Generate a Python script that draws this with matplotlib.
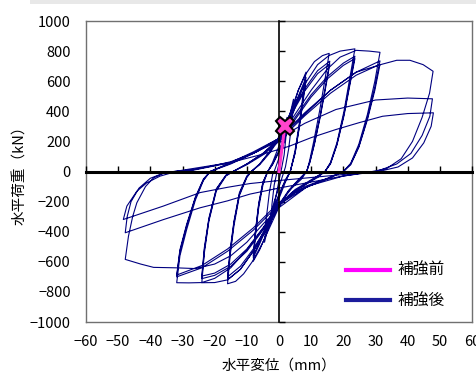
import numpy as np
import matplotlib
matplotlib.use("Agg")
import matplotlib.pyplot as plt
from matplotlib.lines import Line2D
from matplotlib.patches import Rectangle

plt.rcParams['font.family'] = ['Noto Sans CJK JP', 'DejaVu Sans']

# 補強前 : 変位(mm), 荷重(kN)
before_x = [0.0, 1.8]
before_y = [0, 300]

# 補強後 : 履歴ループ (変位 mm, 荷重 kN) を振幅ごとに読み取り
loop_small = [(0, 0), (0.8, 150), (1.8, 290), (2.5, 360), (2.2, 240), (1.6, 110), (0.8, 20),
              (0, -60), (-1, -170), (-2.5, -340), (-2.2, -220), (-1.5, -90), (-0.7, -10),
              (0, 50), (1.5, 190), (3, 340), (4.5, 480), (4.0, 330), (3.0, 150), (2.0, 30),
              (0.5, -70), (-1.5, -200), (-3, -330), (-4.5, -470), (-4.0, -320), (-3.0, -140),
              (-2.0, -20), (-1.5, 0)]

loop_08 = [(0, 90), (2, 230), (4, 400), (6, 540), (8.4, 660),
           (7.4, 500), (6.3, 320), (5, 140), (3.5, 0),
           (2, -70), (0, -180), (-2, -300), (-4, -420), (-6, -520), (-8, -596),
           (-7.3, -420), (-6.3, -240), (-5, -90), (-3.5, 0),
           (-2, 50), (0, 140), (2, 250), (4, 380), (6, 500), (8.4, 625),
           (7.4, 470), (6.3, 300), (5, 125), (3.5, 0),
           (2, -60), (0, -160), (-2, -270), (-4, -380), (-6, -480), (-8, -572),
           (-7.3, -400), (-6.3, -220), (-5, -75), (-3.5, 0),
           (-2, 45), (0, 130), (2, 240), (4, 365), (6, 485), (8.4, 605),
           (7.4, 455), (6.3, 290), (5, 120), (3.5, 0),
           (2, -55), (0, -150), (-2, -260), (-4, -370), (-6, -465), (-8, -560),
           (-7.3, -390), (-6.3, -210), (-5, -70), (-3.5, 0)]

loop_16 = [(-2, 60), (0, 170), (3, 360), (6, 540), (8.4, 650), (11, 730), (13.5, 770), (15.6, 785),
           (14.2, 600), (12.6, 400), (10.8, 200), (9.5, 70), (8.6, 0),
           (7, -50), (4, -110), (1, -190), (-2, -330), (-5, -470), (-8, -590), (-11, -680),
           (-13.5, -730), (-16, -746),
           (-15.2, -560), (-14, -360), (-12.3, -160), (-10, -40), (-8.6, 0),
           (-6, 50), (-3, 130), (0, 230), (4, 400), (8, 550), (12, 670), (15.8, 733),
           (14.4, 560), (12.8, 370), (11, 185), (9.6, 65), (8.6, 0),
           (6, -60), (3, -130), (0, -230), (-4, -390), (-8, -530), (-12, -650), (-16, -720),
           (-15.2, -540), (-14, -340), (-12.3, -150), (-10, -35), (-8.6, 0),
           (-6, 45), (-3, 120), (0, 215), (4, 385), (8, 535), (12, 650), (15.8, 715),
           (14.4, 545), (12.8, 360), (11, 180), (9.6, 60), (8.6, 0),
           (6, -55), (3, -125), (0, -220), (-4, -375), (-8, -515), (-12, -630), (-16, -700),
           (-15.2, -520), (-14, -330), (-12.3, -140), (-10, -30), (-8.6, 0)]

loop_24 = [(-6, 50), (-3, 130), (0, 230), (4, 410), (8, 580), (12, 710), (15.5, 770), (19, 800),
           (23.6, 815),
           (22, 620), (20.2, 400), (18, 190), (16, 60), (14.3, 0),
           (12, -40), (8, -90), (4, -140), (0, -220), (-4, -370), (-8, -530), (-12, -650),
           (-16, -720), (-20, -738), (-24, -739),
           (-23.2, -540), (-21.8, -330), (-19.5, -130), (-16.5, -30), (-14.3, 0),
           (-10, 50), (-5, 120), (0, 210), (5, 360), (10, 510), (15, 630), (20, 720), (23.6, 766),
           (22, 585), (20.2, 380), (18, 180), (16, 55), (14.3, 0),
           (10, -60), (5, -130), (0, -230), (-5, -390), (-10, -530), (-15, -630), (-20, -690),
           (-24, -712),
           (-23.2, -520), (-21.8, -320), (-19.5, -120), (-16.5, -25), (-14.3, 0),
           (-10, 45), (-5, 110), (0, 200), (5, 345), (10, 495), (15, 615), (20, 705), (23.6, 750),
           (22, 570), (20.2, 370), (18, 175), (16, 50), (14.3, 0),
           (10, -55), (5, -120), (0, -220), (-5, -375), (-10, -515), (-15, -615), (-20, -675),
           (-24, -695),
           (-23.2, -505), (-21.8, -310), (-19.5, -115), (-16.5, -25), (-14.3, 0)]

loop_31 = [(-10, 50), (-5, 120), (0, 220), (5, 380), (10, 540), (15, 680), (19, 760), (24, 805),
           (28, 800), (31.4, 792),
           (29.8, 600), (27.5, 380), (24.8, 180), (22.3, 55), (20, 0),
           (16, -40), (10, -90), (5, -140), (0, -220), (-5, -380), (-10, -520), (-15, -640),
           (-20, -710), (-24, -738), (-28, -740), (-31.8, -739),
           (-30.8, -560), (-28.7, -385), (-26, -190), (-23.5, -60), (-21.4, 0),
           (-15, 60), (-8, 130), (0, 220), (8, 390), (16, 540), (24, 660), (31.4, 735),
           (29.8, 560), (27.5, 355), (24.8, 165), (22.3, 50), (20, 0),
           (15, -50), (8, -110), (0, -220), (-8, -390), (-16, -530), (-24, -640), (-31.8, -700),
           (-30.8, -530), (-28.7, -360), (-26, -175), (-23.5, -55), (-21.4, 0),
           (-15, 55), (-8, 120), (0, 205), (8, 370), (16, 520), (24, 640), (31.4, 712),
           (29.8, 540), (27.5, 345), (24.8, 160), (22.3, 45), (20, 0),
           (15, -45), (8, -100), (0, -205), (-8, -375), (-16, -515), (-24, -625), (-31.8, -688),
           (-30.8, -520), (-28.7, -350), (-26, -170), (-23.5, -50), (-21.4, 0)]

loop_48 = [(-15, 50), (-8, 120), (0, 220), (8, 380), (16, 540), (24, 660), (31.9, 712),
           (36.6, 739), (40.7, 739), (44.8, 710), (47.9, 666),
           (46.8, 520), (44.5, 360), (41.5, 200), (38, 85), (33.5, 20), (29, 0),
           (20, -30), (9, -97), (0, -240), (-5, -350), (-10, -470), (-15, -560), (-20, -615),
           (-26, -645), (-32, -640), (-39, -637), (-43, -615), (-47.8, -584),
           (-46.8, -430), (-45.5, -300), (-44.2, -208), (-41.5, -100), (-39, -42), (-36, -12),
           (-32.8, 0),
           (-26.6, 12), (-20, 40), (-15, 65), (-7, 130), (0, 220), (8, 320), (17.7, 412),
           (30, 475), (40, 488), (47.7, 483),
           (46.9, 367), (44.5, 240), (41, 120), (36.6, 50), (30.3, 0),
           (20, -30), (10, -70), (0, -110), (-9, -150), (-16, -195), (-24.5, -241), (-36, -320),
           (-47.8, -407),
           (-47.2, -300), (-46, -200), (-43.5, -110), (-40, -45), (-36, -12), (-32.5, 0),
           (-25, 25), (-15, 60), (-5, 115), (3.2, 168), (10, 225), (17.7, 279), (25, 325),
           (32.2, 367), (40, 385), (48, 390),
           (47.3, 300), (45, 190), (41.5, 90), (37, 30), (31, 0),
           (20, -20), (10, -40), (0, -60), (-9, -80), (-16, -105), (-24.5, -140), (-36, -230),
           (-48.4, -319),
           (-47.3, -230), (-44.2, -131), (-41.1, -75), (-37, -31), (-32.8, -5), (-26.6, 9),
           (-15.2, 58)]

x_ticks = np.arange(-60, 61, 10)
y_ticks = np.arange(-1000, 1001, 200)

after = np.array(loop_small + loop_08 + loop_16 + loop_24 + loop_31 + loop_48)

fig = plt.figure(figsize=(4.76, 3.76), dpi=100)
fig.add_artist(Rectangle((30 / 476, 372 / 376), 1, 4 / 376, transform=fig.transFigure,
                         color='#e8e8e8', lw=0))

rect = [86 / 476, 54 / 376, 386 / 476, 301 / 376]

# 外枠と目盛ラベル
ax_frame = fig.add_axes(rect)
ax_frame.set_xlim(-60, 60)
ax_frame.set_ylim(-1000, 1000)
ax_frame.set_xticks(x_ticks)
ax_frame.set_yticks(y_ticks)
ax_frame.tick_params(axis='x', length=0, labelsize=10.5, pad=9)
ax_frame.tick_params(axis='y', length=0, labelsize=10.5, pad=11)
for s in ax_frame.spines.values():
    s.set_color('#707070')
    s.set_linewidth(1.0)
ax_frame.set_xlabel('水平変位（mm）', fontsize=10.5, labelpad=7.5)
ax_frame.set_ylabel('水平荷重（kN）', fontsize=10.5, labelpad=1.5)

# 原点を通る軸
ax = fig.add_axes(rect)
ax.patch.set_visible(False)
ax.set_xlim(-60, 60)
ax.set_ylim(-1000, 1000)
ax.set_xticks(x_ticks)
ax.set_yticks(y_ticks)
ax.spines['left'].set_position(('data', 0))
ax.spines['bottom'].set_position(('data', 0))
ax.spines['top'].set_visible(False)
ax.spines['right'].set_visible(False)
ax.spines['bottom'].set_linewidth(2.2)
ax.spines['left'].set_linewidth(1.2)
ax.tick_params(direction='in', length=4, width=1, labelbottom=False, labelleft=False)

ax.plot(after[:, 0], after[:, 1], color='#000080', lw=0.8)
ax.plot(before_x, before_y, color='#ff33cc', lw=2.2, zorder=5)
ax.plot(before_x[-1], before_y[-1], marker='X', ms=13, mfc='#ff44cc', mec='black', mew=1.5,
        zorder=6)

handles = [Line2D([], [], color='#ff00ff', lw=3), Line2D([], [], color='#1c1c9c', lw=3)]
ax.legend(handles, ['補強前', '補強後'], loc='lower right', bbox_to_anchor=(0.965, -0.005),
          frameon=False, fontsize=11.3, handlelength=2.8, handletextpad=0.45, labelspacing=0.85)

fig.savefig('out.png', dpi=100)
